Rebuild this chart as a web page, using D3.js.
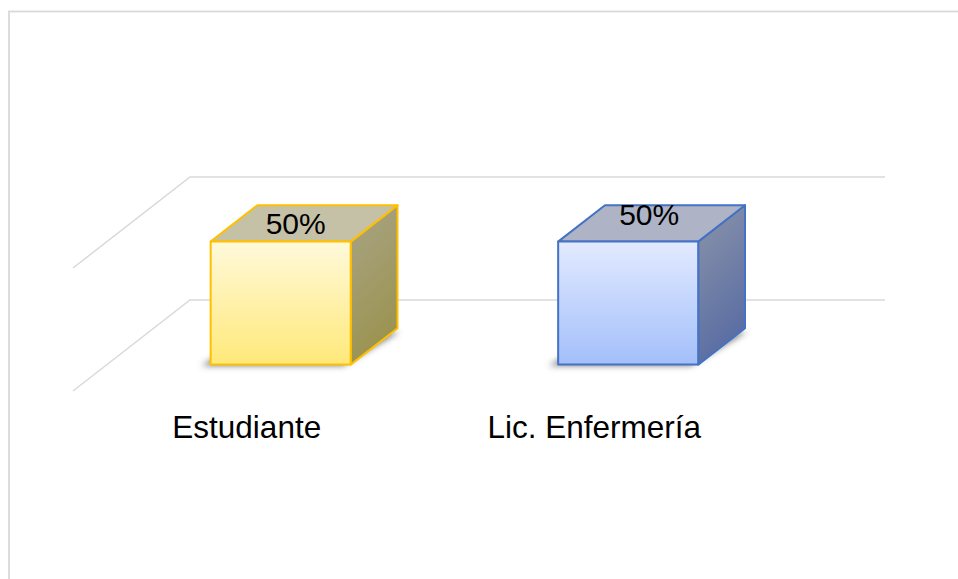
<!DOCTYPE html>
<html>
<head>
<meta charset="utf-8">
<script src="https://cdn.jsdelivr.net/npm/d3@7/dist/d3.min.js"></script>
<style>
  html, body { margin: 0; padding: 0; background: #ffffff; }
  svg { display: block; }
</style>
</head>
<body>
<script>
// ---- data ----
const categories = ["Estudiante", "Lic. Enfermería"];
const values = [0.5, 0.5];
const gridValues = [0, 0.5];
const valueLabels = ["50%", "50%"];

// ---- layout ----
const W = 958, H = 579;
const floorFrontY = 391;      // y of 0 at front edge of floor
const depthDX = 117, depthDY = -91; // full floor depth vector
const frontLeft = 73, frontRight = 768;
const barDepth0 = 0.29, barDepth1 = 0.69;

const svg = d3.select("body").append("svg").attr("width", W).attr("height", H);
const defs = svg.append("defs");

// chart border
svg.append("rect").attr("x", 9).attr("y", 11.5).attr("width", W + 20).attr("height", H + 20)
  .attr("fill", "none").attr("stroke", "#d9d9d9").attr("stroke-width", 1.8);

const x = d3.scaleBand().domain(categories).range([frontLeft, frontRight])
  .paddingInner(0.597).paddingOuter(0.2985);
const y = d3.scaleLinear().domain([0, 0.5]).range([0, 123]);

function proj(px, t, h) {
  return [px + t * depthDX, floorFrontY + t * depthDY - h];
}

// gridlines
const grid = svg.append("g");
gridValues.forEach(v => {
  const h = y(v);
  const a = proj(frontLeft, 0, h), b = proj(frontLeft, 1, h), c = proj(frontRight, 1, h);
  grid.append("path")
    .attr("d", d3.line()([a, b, c]))
    .attr("fill", "none").attr("stroke", "#d9d9d9").attr("stroke-width", 1.5);
});

// gradients & filters
const palettes = [
  { front: ["#fff9da", "#ffe97a"], stroke: "#ffc000", top: "#c5c1a7", side: ["#a9a487", "#9b9350"] },
  { front: ["#e2eaff", "#a3bffa"], stroke: "#4472c4", top: "#aeb4c5", side: ["#8c94aa", "#5a6da3"] }
];
palettes.forEach((p, i) => {
  const g1 = defs.append("linearGradient").attr("id", "front" + i).attr("x1", 0).attr("y1", 0).attr("x2", 0).attr("y2", 1);
  g1.append("stop").attr("offset", 0).attr("stop-color", p.front[0]);
  g1.append("stop").attr("offset", 1).attr("stop-color", p.front[1]);
  const g2 = defs.append("linearGradient").attr("id", "side" + i).attr("x1", 0).attr("y1", 0).attr("x2", 0.3).attr("y2", 1);
  g2.append("stop").attr("offset", 0).attr("stop-color", p.side[0]);
  g2.append("stop").attr("offset", 1).attr("stop-color", p.side[1]);
});
const blur = defs.append("filter").attr("id", "shadowBlur").attr("x", "-20%").attr("y", "-50%").attr("width", "140%").attr("height", "200%");
blur.append("feGaussianBlur").attr("stdDeviation", 3);

const bars = svg.append("g");
categories.forEach((c, i) => {
  const p = palettes[i];
  const xl = x(c), xr = x(c) + x.bandwidth();
  const h = y(values[i]);
  const F = (px, t, hh) => proj(px, t, hh);
  // shadow on floor
  const sh = [F(xl - 12, barDepth0 + 0.02, -3), F(xr - 10, barDepth0 + 0.02, -3), F(xr + 4, barDepth1 - 0.02, -2), F(xl + 4, barDepth1 - 0.02, -2)];
  bars.append("path").attr("d", d3.line()(sh) + "Z")
    .attr("fill", "#555").attr("opacity", 0.75).attr("filter", "url(#shadowBlur)");
  // side face
  const side = [F(xr, barDepth0, 0), F(xr, barDepth1, 0), F(xr, barDepth1, h), F(xr, barDepth0, h)];
  bars.append("path").attr("d", d3.line()(side) + "Z")
    .attr("fill", `url(#side${i})`).attr("stroke", p.stroke).attr("stroke-width", 2).attr("stroke-linejoin", "round");
  // top face
  const top = [F(xl, barDepth0, h), F(xr, barDepth0, h), F(xr, barDepth1, h), F(xl, barDepth1, h)];
  bars.append("path").attr("d", d3.line()(top) + "Z")
    .attr("fill", p.top).attr("stroke", p.stroke).attr("stroke-width", 2).attr("stroke-linejoin", "round");
  // front face
  const front = [F(xl, barDepth0, 0), F(xr, barDepth0, 0), F(xr, barDepth0, h), F(xl, barDepth0, h)];
  bars.append("path").attr("d", d3.line()(front) + "Z")
    .attr("fill", `url(#front${i})`).attr("stroke", p.stroke).attr("stroke-width", 2).attr("stroke-linejoin", "round");
});

// value labels
const labelNudge = [[15, 8], [21, -1]];
categories.forEach((c, i) => {
  const cx = x(c) + x.bandwidth() / 2;
  const pt = proj(cx, barDepth0, y(values[i]));
  svg.append("text")
    .attr("x", pt[0] + labelNudge[i][0]).attr("y", pt[1] - 16 + labelNudge[i][1])
    .attr("text-anchor", "middle")
    .attr("font-family", "Liberation Sans, Arial, sans-serif")
    .attr("font-size", 30).attr("fill", "#000")
    .text(valueLabels[i]);
});

// category labels
svg.append("g").selectAll("text").data(categories).join("text")
  .attr("x", d => x(d) + x.bandwidth() / 2)
  .attr("y", 438)
  .attr("text-anchor", "middle")
  .attr("font-family", "Liberation Sans, Arial, sans-serif")
  .attr("font-size", 31.5).attr("fill", "#000")
  .text(d => d);
</script>
</body>
</html>
